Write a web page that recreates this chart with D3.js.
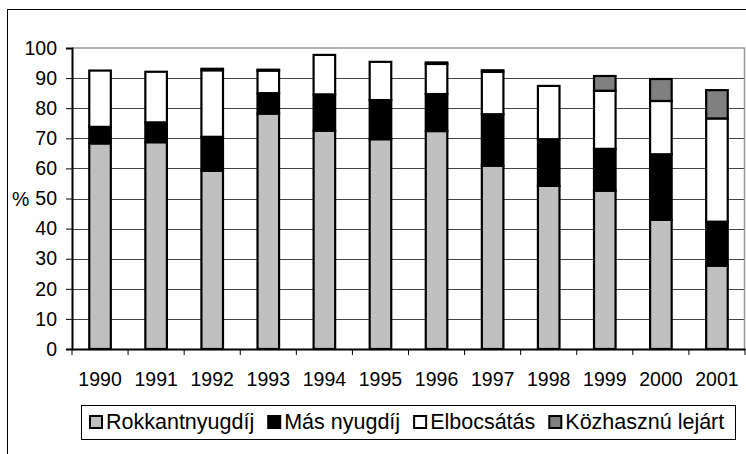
<!DOCTYPE html>
<html>
<head>
<meta charset="utf-8">
<script src="https://cdn.jsdelivr.net/npm/d3@7"></script>
<style>
  body { margin: 0; background: #fff; }
  svg { display: block; font-family: "Liberation Sans", Arial, sans-serif; }
</style>
</head>
<body>
<div id="chart"></div>
<script>
// data (percent)
const years = ["1990", "1991", "1992", "1993", "1994", "1995", "1996", "1997", "1998", "1999", "2000", "2001"];
const rokkant = [68.3, 68.7, 59.2, 78.2, 72.5, 69.7, 72.4, 60.9, 54.2, 52.6, 42.9, 27.7];
const masNyugdij = [5.5, 6.6, 11.3, 6.8, 12.1, 13.0, 12.3, 17.1, 15.5, 13.9, 21.8, 14.6];
const elbocsatas = [18.7, 16.8, 22.1, 7.5, 13.1, 12.7, 10.0, 14.1, 17.7, 19.3, 17.7, 34.3];
const kozhasznu = [0, 0, 0.5, 0.3, 0, 0, 0.5, 0.5, 0, 4.9, 7.3, 9.4];
const yTicks = [0, 10, 20, 30, 40, 50, 60, 70, 80, 90, 100];

const seriesNames = ["Rokkantnyugdíj", "Más nyugdíj", "Elbocsátás", "Közhasznú lejárt"];
const seriesColors = ["#c0c0c0", "#000000", "#ffffff", "#808080"];

function createChart() {
  const width = 746, height = 454;
  const margin = {left: 72, right: 1, top: 48, bottom: 105};

  const table = years.map((y, i) => ({
    year: y,
    "Rokkantnyugdíj": rokkant[i],
    "Más nyugdíj": masNyugdij[i],
    "Elbocsátás": elbocsatas[i],
    "Közhasznú lejárt": kozhasznu[i]
  }));
  const stacked = d3.stack().keys(seriesNames)(table);

  const x = d3.scaleBand()
      .domain(years)
      .range([margin.left, width - margin.right]);
  const y = d3.scaleLinear()
      .domain([0, 100])
      .range([height - margin.bottom, margin.top]);
  const color = d3.scaleOrdinal().domain(seriesNames).range(seriesColors);
  const barW = x.bandwidth() / 2.6;  // excel gap width ~150%

  const svg = d3.select("#chart").append("svg")
      .attr("width", width)
      .attr("height", height);

  // outer chart border (cut off at right and bottom)
  svg.append("rect")
      .attr("x", 7.5).attr("y", 9.5)
      .attr("width", 760).attr("height", 460)
      .attr("fill", "none")
      .attr("stroke", "#000");

  // gridlines
  svg.append("g")
    .selectAll("line")
    .data(yTicks.filter(d => d > 0 && d < 100))
    .join("line")
      .attr("x1", margin.left).attr("x2", width - margin.right)
      .attr("y1", d => Math.round(y(d)) + 0.5).attr("y2", d => Math.round(y(d)) + 0.5)
      .attr("stroke", "#444")
      .attr("stroke-width", 1);

  // plot area border (top / right)
  svg.append("path")
      .attr("d", `M${margin.left},${y(100)}H${width - margin.right - 0.5}V${y(0)}`)
      .attr("fill", "none")
      .attr("stroke", "#999")
      .attr("stroke-width", 1.5);

  // bars
  svg.append("g")
    .selectAll("g")
    .data(stacked)
    .join("g")
      .attr("fill", d => color(d.key))
    .selectAll("rect")
    .data(d => d.filter(p => p[1] - p[0] > 0))
    .join("rect")
      .attr("x", d => x(d.data.year) + (x.bandwidth() - barW) / 2)
      .attr("y", d => y(d[1]))
      .attr("width", barW)
      .attr("height", d => y(d[0]) - y(d[1]))
      .attr("stroke", "#000")
      .attr("stroke-width", 2.2);

  // y axis
  svg.append("g")
      .attr("transform", `translate(${margin.left},0)`)
      .call(d3.axisLeft(y).tickValues(yTicks).tickSize(6).tickPadding(9))
      .call(g => g.select(".domain").attr("stroke", "#000").attr("stroke-width", 2))
      .call(g => g.selectAll(".tick line").attr("stroke", "#000"))
      .call(g => g.selectAll(".tick text")
          .attr("font-size", 19.5)
          .attr("font-family", "Liberation Sans, Arial, sans-serif")
          .attr("fill", "#000"));

  svg.append("text")
      .attr("x", 12)
      .attr("y", y(50))
      .attr("dy", "0.36em")
      .attr("font-size", 19.5)
      .text("%");

  // x axis
  const xAxisG = svg.append("g")
      .attr("transform", `translate(0,${y(0)})`)
      .call(d3.axisBottom(x).tickSize(0).tickPadding(23))
      .call(g => g.select(".domain").attr("stroke", "#000").attr("stroke-width", 2))
      .call(g => g.selectAll(".tick text")
          .attr("font-size", 19.5)
          .attr("font-family", "Liberation Sans, Arial, sans-serif")
          .attr("fill", "#000"));

  xAxisG.selectAll(".sep")
    .data(years.concat(["end"]))
    .join("line")
      .attr("class", "sep")
      .attr("x1", d => d === "end" ? width - margin.right : x(d))
      .attr("x2", d => d === "end" ? width - margin.right : x(d))
      .attr("y1", 0).attr("y2", 6)
      .attr("stroke", "#000");

  // legend
  const legend = svg.append("g");
  legend.append("rect")
      .attr("x", 81.5).attr("y", 405.5)
      .attr("width", 654).attr("height", 34)
      .attr("fill", "#fff")
      .attr("stroke", "#000");

  let lx = 90;
  seriesNames.forEach((name, i) => {
    legend.append("rect")
        .attr("x", lx).attr("y", 416)
        .attr("width", 12).attr("height", 12)
        .attr("fill", color(name))
        .attr("stroke", "#000")
        .attr("stroke-width", 2);
    const t = legend.append("text")
        .attr("x", lx + 16)
        .attr("y", 429)
        .attr("font-size", 21.5)
        .text(name);
    lx += 16 + t.node().getComputedTextLength() + 14;
  });
}

createChart();
</script>
</body>
</html>
